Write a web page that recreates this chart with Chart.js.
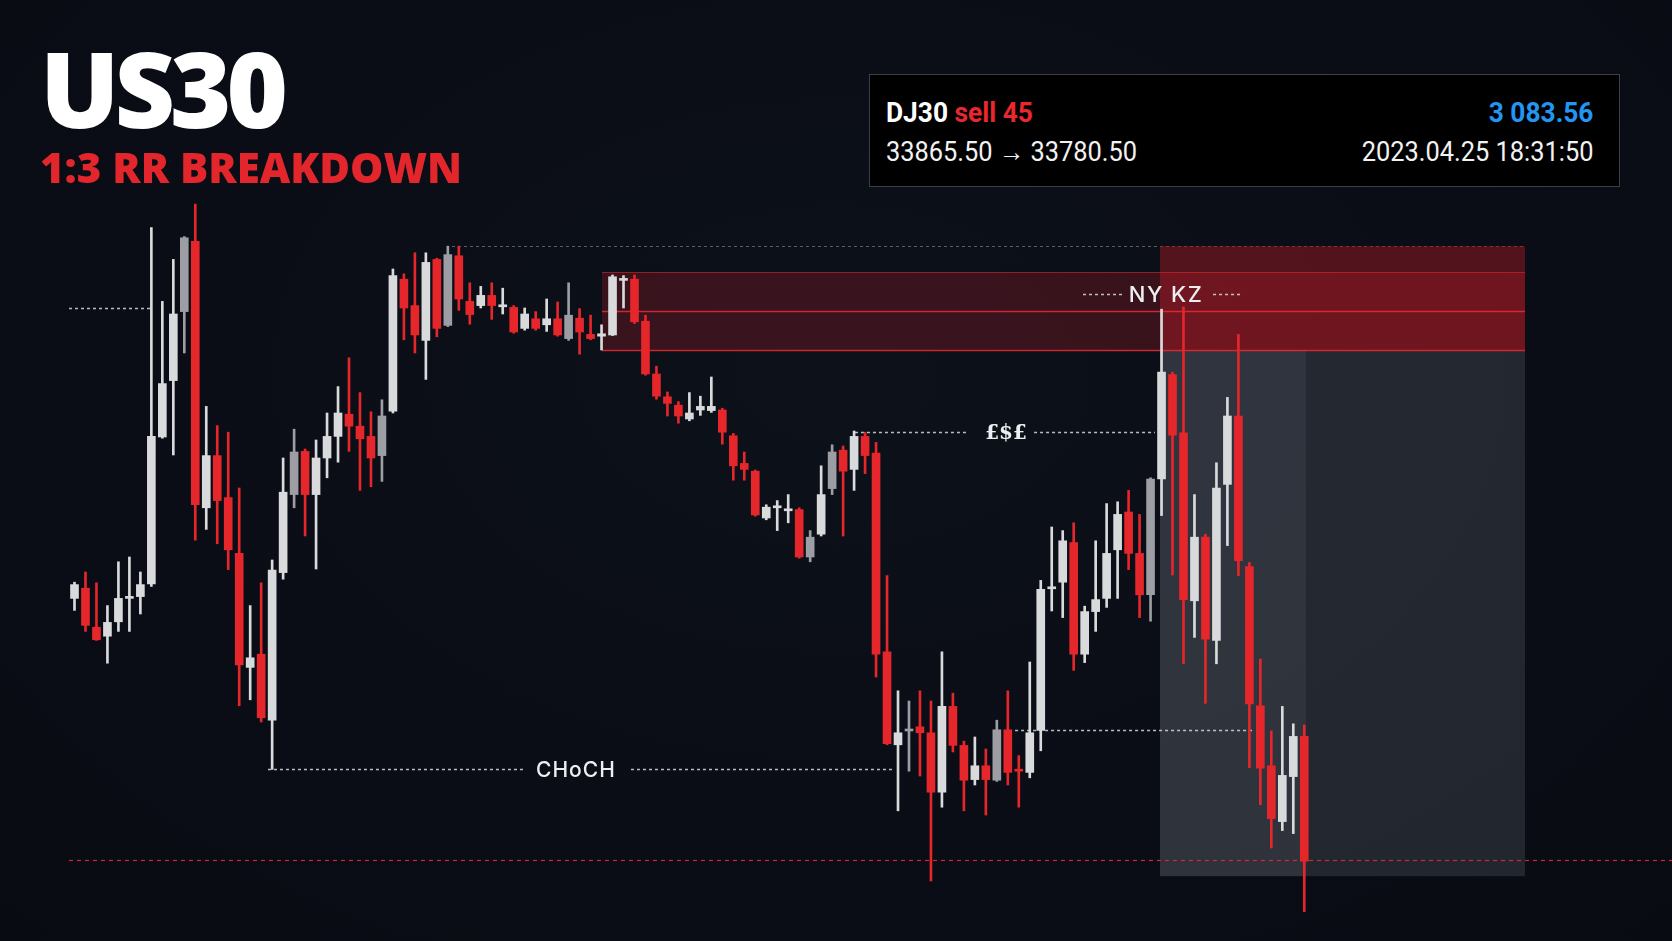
<!DOCTYPE html>
<html>
<head>
<meta charset="utf-8">
<script src="https://cdn.jsdelivr.net/npm/chart.js@4.4.0/dist/chart.umd.min.js"></script>
<style>
html,body{margin:0;padding:0;width:1672px;height:941px;overflow:hidden;background:#0a0d15;}
#wrap{position:relative;width:1672px;height:941px;background:radial-gradient(ellipse at 50% 40%, #0d111a 0%, #0a0d15 60%, #080b12 100%);}
canvas{position:absolute;left:0;top:0;}
.t{position:absolute;white-space:nowrap;line-height:1;}
#title{left:40px;top:35px;font-family:'Open Sans',sans-serif;font-weight:800;font-size:105px;color:#fff;letter-spacing:-5px;}
#sub{left:40px;top:146px;font-family:'Open Sans',sans-serif;font-weight:800;font-size:42px;color:#e3262c;}
#box{position:absolute;left:869px;top:74px;width:751px;height:113px;box-sizing:border-box;background:#000;border:1px solid #3a3f48;}
.ib{font-family:Roboto,sans-serif;font-size:28px;transform:scaleX(0.94);}
.lft{transform-origin:left center;}
.rgt{transform-origin:right center;}
.lbl{position:absolute;white-space:nowrap;line-height:1;transform:translate(-50%,-50%);color:#eceef1;font-family:Inter,'Open Sans',sans-serif;font-weight:500;font-size:21px;letter-spacing:1px;}
</style>
</head>
<body>
<div id="wrap">
<canvas id="c" width="1672" height="941"></canvas>
<div class="t" id="title">US30</div>
<div class="t" id="sub">1:3 RR BREAKDOWN</div>
<div id="box"></div>
<div class="t ib lft" style="left:886px;top:99px;font-weight:700;color:#fff;">DJ30 <span style="color:#e8282e;">sell 45</span></div>
<div class="t ib lft" style="left:886px;top:139px;font-weight:400;color:#f2f2f2;font-size:27px;">33865.50 → 33780.50</div>
<div class="t ib rgt" style="right:79px;top:99px;font-weight:700;color:#2196f3;">3 083.56</div>
<div class="t ib rgt" style="right:79px;top:139px;font-weight:400;color:#f2f2f2;font-size:27px;">2023.04.25 18:31:50</div>
<div class="lbl" id="lblChoch">CHoCH</div>
<div class="lbl" id="lblLiq" style="font-family:'DejaVu Serif',serif;font-weight:700;font-size:20px;letter-spacing:0;">£$£</div>
<div class="lbl" id="lblKz" style="font-size:22px;letter-spacing:1.5px;">NY KZ</div>
</div>
<script>
// ---- data ----
const open = [33824.1,33825.8,33819.3,33817.8,33820.2,33824.1,33824.4,33826.5,33851.0,33860.4,
33871.9,33883.6,33839.2,33847.9,33840.9,33831.6,33812.6,33814.8,33803.8,33828.4,
33841.4,33848.6,33841.4,33847.5,33851.1,33854.8,33852.8,33851.1,33847.9,33855.3,
33877.3,33872.9,33867.1,33880.6,33869.6,33881.2,33873.6,33872.9,33874.6,33872.7,
33872.6,33869.1,33870.7,33869.7,33870.7,33867.4,33870.8,33868.1,33867.8,33868.0,
33877.1,33877.3,33870.3,33861.5,33857.7,33856.3,33854.0,33855.5,33855.4,33855.5,
33851.2,33846.6,33845.3,33837.5,33839.2,33838.7,33838.9,33831.0,33834.8,33842.4,
33848.8,33845.6,33851.1,33848.3,33815.2,33799.7,33802.0,33802.7,33801.7,33791.8,
33806.1,33799.6,33793.9,33796.2,33793.8,33802.2,33795.5,33795.1,33802.1,33825.7,
33826.8,33833.4,33814.8,33821.9,33824.1,33832.2,33838.5,33831.6,33824.7,33844.0,
33861.4,33851.7,33823.7,33834.3,33817.1,33843.1,33854.5,33829.4,33806.2,33796.2,
33786.9,33794.4,33801.1];
const high = [33826.8,33828.5,33826.7,33822.9,33830.2,33831.0,33828.5,33885.9,33873.6,33880.6,
33884.4,33889.8,33856.1,33852.9,33851.8,33842.5,33822.9,33826.7,33830.5,33847.5,
33852.3,33849.0,33850.5,33855.0,33859.4,33864.2,33858.4,33855.2,33857.2,33879.0,
33878.2,33881.7,33881.7,33880.8,33882.8,33882.8,33876.7,33876.1,33876.7,33875.8,
33872.9,33872.5,33871.9,33874.0,33873.5,33876.7,33872.4,33871.3,33869.7,33878.0,
33877.9,33878.0,33871.3,33862.8,33858.5,33856.9,33858.4,33857.8,33861.0,33855.8,
33851.6,33848.5,33845.5,33839.7,33840.4,33841.4,33839.2,33835.4,33846.2,33849.7,
33849.5,33852.0,33851.8,33850.1,33827.9,33808.7,33807.0,33808.7,33807.0,33815.2,
33808.3,33800.3,33801.0,33799.0,33803.8,33808.7,33797.9,33813.5,33827.1,33836.0,
33835.4,33836.7,33822.8,33833.7,33839.9,33840.2,33842.1,33838.1,33844.2,33872.3,
33861.8,33872.7,33841.4,33834.8,33846.7,33857.6,33868.1,33830.1,33814.0,33802.0,
33806.1,33803.2,33803.0];
const low = [33822.1,33818.6,33817.1,33813.3,33818.6,33818.6,33821.5,33826.1,33850.8,33848.0,
33865.0,33833.8,33835.6,33833.2,33828.9,33806.2,33807.2,33803.5,33795.6,33827.3,
33839.2,33834.5,33829.0,33844.2,33846.8,33848.6,33842.1,33842.7,33843.6,33855.0,
33867.2,33865.0,33860.6,33867.7,33869.4,33872.1,33869.8,33872.5,33870.6,33871.5,
33868.3,33868.8,33868.8,33868.6,33867.8,33867.1,33864.8,33867.2,33865.5,33867.9,
33872.5,33869.9,33861.3,33857.3,33854.5,33853.3,33853.7,33854.6,33855.1,33849.8,
33843.8,33843.8,33837.8,33837.2,33835.4,33836.7,33830.8,33830.2,33834.5,33841.4,
33834.5,33842.1,33844.9,33811.0,33799.7,33788.7,33795.3,33794.5,33777.0,33789.3,
33798.5,33788.7,33793.0,33788.0,33793.6,33793.0,33789.3,33794.2,33798.7,33822.0,
33820.9,33812.1,33813.4,33818.6,33822.6,33824.1,33828.9,33820.9,33820.3,33837.9,
33828.0,33813.2,33817.6,33806.6,33813.2,33832.9,33827.9,33795.9,33789.7,33782.5,
33785.4,33784.9,33771.9];
const close = [33826.4,33819.6,33817.2,33820.1,33824.1,33824.3,33826.4,33851.1,33859.9,33871.5,
33884.2,33839.7,33847.9,33840.4,33832.2,33813.0,33814.2,33804.2,33828.8,33841.8,
33848.5,33841.4,33847.5,33851.1,33855.0,33852.8,33850.7,33847.5,33854.5,33877.9,
33872.5,33868.0,33880.1,33869.1,33881.4,33874.0,33871.4,33874.6,33872.9,33873.0,
33868.5,33871.5,33869.1,33870.7,33868.0,33871.3,33868.5,33867.4,33868.2,33877.7,
33877.3,33870.2,33861.5,33857.8,33856.6,33854.5,33855.0,33856.1,33856.1,33851.8,
33846.2,33845.6,33838.0,33839.3,33839.4,33839.0,33831.0,33834.3,33841.4,33848.5,
33845.3,33851.1,33847.9,33814.8,33799.9,33801.7,33802.3,33801.7,33791.8,33806.1,
33799.6,33793.8,33796.2,33793.9,33802.2,33795.1,33795.3,33801.7,33825.6,33826.0,
33833.7,33814.8,33821.9,33823.9,33831.6,33838.1,33831.6,33824.7,33844.0,33861.8,
33851.3,33823.9,33834.3,33817.3,33842.5,33854.5,33830.4,33806.5,33795.8,33787.4,
33794.6,33801.1,33780.3];
const candleIndex = open.map((_, i) => i + 1);

// trade levels (from the info box)
const ENTRY = 33865.5;
const TARGET = 33780.5;

// ---- styling ----
const BULL = '#d9dadc', MUTED = '#9c9ea3', BEAR = '#e5262b';
const mutedCandles = [11, 21, 29, 35, 46, 68, 70, 77, 85, 99];
const colorOf = i => close[i] < open[i] ? BEAR : (mutedCandles.includes(i + 1) ? MUTED : BULL);

// annotation levels, taken from the candles
const CHOCH = low[18];
const LIQ = high[72];
const RANGE_HIGH = high[34];
const EQ_LOW = close[84];
const LEFT_LEVEL = 33872.5;
const OB_TOP = 33878.5, OB_MID = 33872.0;
const RISK_LOW = 33777.8;

const bodies = candleIndex.map((x, i) => ({x, y: [open[i], close[i]]}));
const wicks = candleIndex.map((x, i) => ({x, y: [low[i], high[i]]}));

const ZONE_L = 99.86, ZONE_SPLIT = 113.16, ZONE_R = 133.1, OB_L = 49.04;

const annot = {
  id: 'annot',
  beforeDatasetsDraw(chart) {
    const {ctx} = chart;
    const xs = chart.scales.x, ys = chart.scales.y;
    const X = v => xs.getPixelForValue(v), Y = v => ys.getPixelForValue(v);
    const rect = (x0, x1, y0, y1, fill) => { ctx.fillStyle = fill; ctx.fillRect(X(x0), Y(y0), X(x1) - X(x0), Y(y1) - Y(y0)); };
    const hline = (x0, x1, v, color, w, dash) => {
      ctx.save(); ctx.strokeStyle = color; ctx.lineWidth = w; ctx.setLineDash(dash || []);
      ctx.beginPath(); const yy = Math.round(Y(v)) + 0.5; ctx.moveTo(X(x0), yy); ctx.lineTo(X(x1), yy); ctx.stroke(); ctx.restore();
    };
    ctx.save();
    // risk/reward grey zone
    rect(ZONE_L, ZONE_R, ENTRY, RISK_LOW, 'rgba(190,200,215,0.14)');
    rect(ZONE_L, ZONE_SPLIT, ENTRY, RISK_LOW, 'rgba(200,208,222,0.08)');
    // order block zone
    rect(OB_L, ZONE_R, OB_TOP, ENTRY, 'rgba(200,30,40,0.24)');
    // NY kill zone
    rect(ZONE_L, ZONE_R, RANGE_HIGH, ENTRY, 'rgba(205,30,40,0.37)');
    hline(OB_L, ZONE_R, OB_TOP, 'rgba(225,40,45,0.55)', 1);
    hline(OB_L, ZONE_R, OB_MID, 'rgba(235,45,50,0.85)', 1.5);
    hline(OB_L, ZONE_R, ENTRY, 'rgba(235,45,50,0.85)', 1.5);
    hline(ZONE_L, ZONE_R, RANGE_HIGH, 'rgba(215,60,65,0.6)', 1, [3, 3]);
    // dotted structure lines
    const dot = 'rgba(215,218,224,0.85)';
    hline(35.38, ZONE_L, RANGE_HIGH, 'rgba(120,126,138,0.7)', 1, [3, 3]);
    hline(0.5, 7.9, LEFT_LEVEL, dot, 1.5, [3, 3]);
    hline(18.62, 42.03, CHOCH, dot, 1.5, [3, 3]);
    hline(51.68, 75.54, CHOCH, dot, 1.5, [3, 3]);
    hline(72.08, 82.28, LIQ, dot, 1.5, [3, 3]);
    hline(88.39, 99.4, LIQ, dot, 1.5, [3, 3]);
    hline(86.66, 108.52, EQ_LOW, dot, 1.5, [3, 3]);
    hline(92.85, 96.4, 33874.8, dot, 1.5, [3, 3]);
    hline(104.69, 107.42, 33874.8, dot, 1.5, [3, 3]);
    // target line
    hline(0.5, 146.49, TARGET, 'rgba(225,45,45,0.9)', 1.2, [4, 4]);
    ctx.restore();
  },
  afterRender(chart) {
    const xs = chart.scales.x, ys = chart.scales.y;
    const place = (id, xv, yv) => {
      const el = document.getElementById(id);
      el.style.left = xs.getPixelForValue(xv) + 'px';
      el.style.top = ys.getPixelForValue(yv) + 'px';
    };
    place('lblChoch', 46.67, CHOCH);
    place('lblLiq', 85.84, LIQ);
    place('lblKz', 100.41, 33874.8);
  }
};

new Chart(document.getElementById('c'), {
  type: 'bar',
  data: {
    datasets: [
      {data: bodies, backgroundColor: bodies.map((_, i) => colorOf(i)), barThickness: 8, minBarLength: 2, grouped: false, borderWidth: 0, borderSkipped: false},
      {data: wicks, backgroundColor: wicks.map((_, i) => colorOf(i)), barThickness: 2, grouped: false, borderWidth: 0, borderSkipped: false}
    ]
  },
  options: {
    responsive: false,
    animation: false,
    devicePixelRatio: 1,
    events: [],
    layout: {padding: 0},
    plugins: {legend: {display: false}, tooltip: {enabled: false}},
    scales: {
      x: {type: 'linear', display: false, min: -5.785, max: 146.49, offset: false},
      y: {type: 'linear', display: false, min: 33767.0, max: 33923.83}
    }
  },
  plugins: [annot]
});
</script>
</body>
</html>
